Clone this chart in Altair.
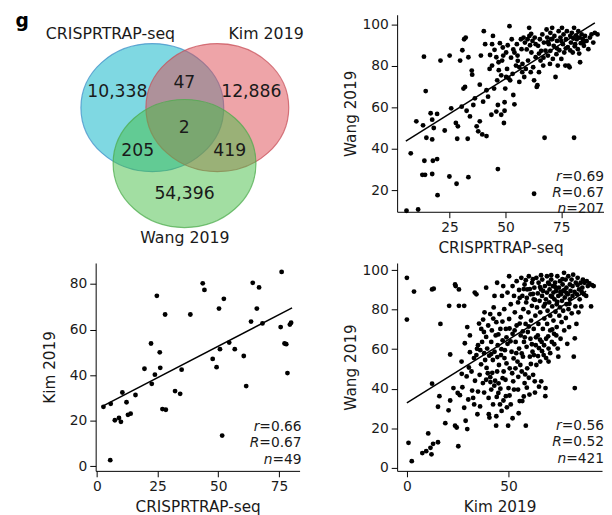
import altair as alt
import pandas as pd

FONT = "DejaVu Sans"
INK = "#1a1a1a"

# ---------------- Venn diagram values ----------------
venn_sets = ["CRISPRTRAP-seq", "Kim 2019", "Wang 2019"]
venn_cx = [143.5, 209.5, 176.2]
venn_cy = [94.3, 94.3, 151.0]
venn_fill = ["#00b1c5", "#dd4951", "#45bd45"]
venn_edge = ["#3f8fc8", "#c8505a", "#4cab4c"]
venn_set_label_x = [101, 259, 176.5]
venn_set_label_y = [20, 20, 227]
venn_counts = ["10,338", "47", "12,886", "2", "205", "419", "54,396"]
venn_count_x = [108, 176, 244, 176, 128.7, 222, 176.2]
venn_count_y = [78, 69, 78, 115, 138.7, 138.7, 182]
panel_letter = "g"

# ---------------- Scatter: CRISPRTRAP-seq vs Wang 2019 (top right) ----------------
tr_points = [
    (5.7, 10.2), (10.9, 10.8), (7.6, 37.9), (10.1, 53.3), (13.5, 84.5), (14.3, 67.9),
    (13.1, 51.4), (14.6, 45.4), (13.7, 34.3), (12.8, 27.5), (14.0, 27.5), (16.5, 57.2),
    (17.2, 54.1), (17.2, 44.6), (17.9, 50.1), (17.5, 34.3), (19.4, 35.1), (17.2, 27.9),
    (19.6, 17.7), (19.4, 56.9), (20.9, 82.6), (22.8, 48.9), (25.0, 85.0), (24.9, 26.7),
    (25.7, 59.6), (27.8, 52.5), (28.7, 50.9), (28.4, 44.9), (28.1, 23.2), (29.7, 82.6),
    (30.7, 87.6), (31.5, 92.9), (32.2, 93.7), (31.2, 69.1), (31.9, 69.9), (30.4, 60.4),
    (32.6, 58.4), (33.4, 84.2), (33.1, 44.9), (33.4, 26.4), (34.1, 55.7), (34.9, 77.8),
    (35.1, 75.8), (35.6, 61.2), (36.3, 64.4), (37.1, 50.9), (37.8, 48.5), (38.5, 71.0),
    (38.5, 53.3), (39.0, 85.0), (39.6, 47.0), (40.0, 62.8), (40.3, 96.8), (40.9, 90.5),
    (41.5, 68.3), (42.2, 65.2), (42.9, 78.6), (43.1, 85.3), (43.7, 56.5), (44.0, 90.5),
    (44.4, 94.5), (44.0, 80.2), (44.9, 69.1), (45.1, 87.8), (45.9, 84.2), (45.9, 58.0),
    (46.3, 73.1), (46.6, 30.3), (46.6, 61.2), (46.9, 81.8), (47.5, 91.0), (48.1, 75.5),
    (48.1, 56.5), (48.5, 82.6), (48.8, 88.9), (49.3, 52.5), (49.6, 58.4), (49.6, 62.5),
    (49.9, 69.1), (50.3, 74.7), (50.3, 86.5), (50.7, 78.6), (51.3, 74.2), (51.8, 99.2),
    (52.1, 73.1), (52.5, 84.0), (52.8, 92.9), (53.2, 76.2), (53.5, 66.0), (54.0, 61.5),
    (54.0, 86.5), (54.7, 80.2), (55.1, 90.5), (55.4, 85.0), (56.2, 72.3), (56.2, 79.4),
    (56.9, 92.9), (57.2, 88.1), (57.6, 81.0), (58.1, 93.7), (58.4, 74.7), (58.7, 91.3),
    (59.1, 78.6), (59.9, 92.9), (60.1, 82.6), (60.6, 98.4), (60.7, 94.5), (61.0, 90.0),
    (61.3, 77.0), (61.6, 86.5), (62.1, 92.1), (62.4, 79.4), (62.8, 73.1), (63.1, 93.7),
    (63.5, 84.2), (64.0, 69.9), (64.3, 70.7), (64.6, 89.7), (65.0, 77.0), (65.4, 92.9),
    (65.7, 82.6), (66.0, 87.3), (66.5, 95.2), (66.9, 80.2), (67.2, 91.3), (67.5, 45.4),
    (67.9, 87.4), (68.4, 97.6), (68.7, 93.7), (69.0, 85.0), (69.4, 90.5), (69.9, 81.0),
    (70.1, 96.0), (70.1, 87.3), (70.4, 92.9), (70.9, 98.4), (71.2, 83.4), (71.6, 89.7),
    (71.9, 94.5), (72.4, 74.7), (72.8, 85.7), (73.1, 92.1), (73.4, 80.2), (73.8, 96.8),
    (74.1, 87.6), (74.6, 93.7), (75.0, 83.4), (75.3, 98.4), (75.7, 90.5), (76.0, 95.2),
    (76.3, 86.5), (76.8, 80.2), (77.1, 92.9), (77.5, 96.8), (77.9, 89.1), (78.2, 80.2),
    (78.7, 79.4), (79.0, 94.5), (79.3, 91.3), (79.7, 96.0), (80.1, 86.5), (80.4, 93.2),
    (80.7, 98.4), (80.7, 45.4), (81.2, 90.5), (81.6, 94.8), (81.9, 92.9), (82.4, 88.1),
    (82.6, 96.8), (83.1, 93.7), (83.4, 81.8), (83.7, 91.0), (84.1, 95.2), (84.6, 92.9),
    (85.1, 89.7), (85.6, 94.5), (86.3, 92.1), (87.1, 88.1), (87.8, 93.7), (88.5, 95.2),
    (89.3, 91.3), (90.0, 96.0), (91.2, 95.2), (62.8, 18.4), (41.5, 46.2),
    (47.0, 78.0), (49.0, 85.0), (51.0, 90.0), (53.5, 88.0), (55.5, 82.5), (57.5, 77.0),
    (59.5, 88.0), (61.5, 95.5), (63.5, 90.5), (65.0, 86.0), (67.0, 84.0), (69.0, 91.5),
    (71.0, 93.0), (73.0, 88.5), (75.0, 92.0), (77.0, 88.5), (79.0, 87.5), (81.0, 89.5),
    (83.0, 86.0), (85.0, 91.5),
]
tr_line_x = [5.4, 90.0]
tr_line_y = [43.8, 100.8]
tr_stats = [("r", "=0.69"), ("R", "=0.67"), ("n", "=207")]

# ---------------- Scatter: CRISPRTRAP-seq vs Kim 2019 (bottom left) ----------------
bl_points = [
    (2.7, 26.1), (5.7, 27.4), (5.5, 2.7), (7.4, 20.2), (9.1, 21.2), (9.9, 19.5),
    (10.5, 32.4), (12.2, 28.1), (12.8, 22.6), (13.9, 23.1), (15.9, 31.3), (19.6, 42.8),
    (22.3, 53.9), (22.6, 36.2), (23.9, 40.2), (24.7, 74.8), (25.9, 50.0), (26.1, 43.2),
    (27.0, 25.1), (28.4, 24.8), (28.1, 66.6), (32.2, 33.0), (34.3, 31.8), (34.9, 42.4),
    (38.5, 66.6), (43.6, 80.3), (44.3, 77.4), (47.7, 47.1), (49.3, 43.5), (50.3, 69.2),
    (50.7, 51.4), (51.6, 13.5), (52.3, 73.5), (54.5, 54.3), (56.8, 51.4), (60.5, 48.4),
    (61.5, 35.2), (63.5, 63.5), (64.2, 80.5), (65.9, 69.2), (66.8, 78.5), (68.2, 62.7),
    (75.7, 61.1), (76.1, 85.3), (77.3, 53.9), (78.0, 53.6), (78.5, 40.9), (79.5, 62.2),
    (80.0, 63.0),
]
bl_line_x = [2.0, 80.4]
bl_line_y = [26.2, 69.5]
bl_stats = [("r", "=0.66"), ("R", "=0.67"), ("n", "=49")]

# ---------------- Scatter: Kim 2019 vs Wang 2019 (bottom right) ----------------
br_points = [
    (0.0, 96.2), (0.0, 75.0), (3.5, 89.2), (0.8, 12.5), (2.4, 3.2), (7.6, 7.3),
    (9.5, 8.3), (10.5, 17.3), (11.6, 10.0), (12.1, 6.7), (12.9, 12.0), (15.3, 12.8),
    (12.4, 90.3), (13.2, 90.7), (16.5, 72.8), (12.4, 42.5), (16.0, 36.2), (15.3, 30.8),
    (18.9, 22.5), (20.5, 29.0), (21.3, 34.0), (21.3, 57.3), (20.8, 82.0), (23.7, 92.8),
    (24.0, 92.0), (25.6, 90.3), (25.6, 82.0), (28.2, 82.0), (22.9, 40.3), (23.7, 21.2),
    (24.5, 20.3), (25.3, 10.8), (25.0, 37.8), (26.1, 36.7), (26.9, 53.7), (27.3, 40.7),
    (28.2, 30.3), (28.9, 23.7), (29.7, 19.5), (29.4, 46.2), (29.7, 71.2), (30.2, 34.5),
    (30.5, 50.7), (31.0, 67.0), (31.8, 48.7), (32.1, 39.0), (32.6, 35.3), (33.1, 32.0),
    (33.4, 88.7), (34.2, 87.8), (34.2, 57.0), (34.7, 27.0), (35.0, 62.0), (35.8, 47.0),
    (36.1, 59.5), (36.6, 70.3), (37.0, 63.7), (37.4, 42.8), (37.9, 68.7), (38.2, 78.7),
    (38.5, 54.5), (39.0, 66.2), (39.0, 91.2), (39.5, 60.3), (39.8, 47.8), (40.2, 35.3),
    (40.3, 27.0), (40.6, 25.3), (41.0, 77.8), (41.1, 43.3), (41.5, 63.7), (41.5, 39.5),
    (41.8, 69.5), (42.3, 54.5), (42.4, 32.0), (42.7, 81.2), (43.1, 87.0), (43.1, 58.7),
    (43.4, 44.0), (43.7, 67.0), (43.9, 21.2), (44.0, 73.7), (44.4, 93.7), (44.4, 48.7),
    (44.7, 62.0), (45.0, 37.8), (45.3, 52.0), (45.5, 77.8), (45.8, 32.0), (46.0, 70.3),
    (46.3, 57.0), (46.6, 28.7), (46.8, 87.0), (47.1, 64.5), (47.1, 45.3), (47.4, 92.0),
    (47.6, 48.7), (47.9, 80.3), (48.2, 59.5), (48.7, 70.3), (48.7, 36.2), (49.0, 52.8),
    (49.5, 88.7), (49.5, 62.7), (49.8, 21.2), (50.0, 40.3), (50.3, 97.0), (50.3, 75.3),
    (50.6, 50.3), (51.1, 82.8), (51.1, 32.0), (51.5, 58.7), (52.0, 92.0), (52.0, 67.8),
    (52.3, 43.7), (52.7, 39.5), (52.7, 87.0), (53.1, 78.7), (53.4, 50.3), (53.5, 63.7),
    (54.0, 94.5), (54.0, 72.0), (54.4, 53.7), (54.7, 83.7), (54.7, 39.5), (55.2, 90.0),
    (55.2, 60.3), (55.5, 33.7), (56.0, 76.2), (56.0, 67.0), (56.3, 96.2), (56.5, 48.7),
    (56.8, 87.0), (56.8, 33.7), (57.1, 56.2), (57.3, 80.3), (57.6, 63.7), (57.9, 92.8),
    (57.9, 42.8), (58.4, 72.8), (58.5, 21.2), (58.7, 83.7), (58.9, 61.2), (59.2, 90.3),
    (59.2, 50.3), (59.5, 68.7), (59.8, 78.7), (60.0, 97.0), (60.3, 37.0), (60.5, 56.2),
    (60.8, 87.8), (60.8, 65.3), (61.1, 74.5), (61.5, 82.0), (61.6, 93.7), (61.8, 58.7),
    (62.1, 47.0), (62.4, 85.3), (62.4, 70.3), (62.7, 91.2), (62.9, 43.7), (63.2, 77.0),
    (63.4, 62.0), (63.7, 96.2), (63.7, 52.0), (64.0, 81.2), (64.4, 88.3), (64.4, 67.0),
    (64.7, 72.8), (64.8, 93.7), (65.0, 60.5), (65.3, 84.5), (65.6, 53.7), (65.6, 78.7),
    (66.0, 90.3), (66.1, 43.7), (66.3, 63.7), (66.5, 87.0), (66.6, 95.3), (66.9, 70.3),
    (67.3, 81.7), (67.3, 57.0), (67.6, 75.5), (67.9, 92.0), (68.1, 36.2), (68.2, 40.3),
    (68.4, 85.3), (68.5, 65.3), (68.9, 97.0), (68.9, 88.7), (69.0, 72.8), (69.2, 79.5),
    (69.5, 93.7), (69.7, 53.7), (69.7, 60.3), (70.0, 83.7), (70.2, 90.3), (70.5, 69.5),
    (70.5, 77.0), (70.8, 87.0), (71.0, 95.3), (71.3, 63.7), (71.5, 81.7), (71.8, 92.0),
    (72.1, 74.5), (72.1, 88.7), (72.4, 67.8), (72.6, 85.3), (72.9, 93.7), (73.1, 79.0),
    (73.4, 89.5), (73.7, 71.2), (73.7, 82.8), (74.0, 97.0), (74.2, 60.3), (74.5, 87.0),
    (74.5, 56.2), (74.8, 91.2), (75.0, 77.0), (75.3, 81.2), (75.3, 94.5), (75.6, 65.3),
    (75.8, 87.8), (76.1, 73.7), (76.3, 84.5), (76.6, 92.8), (76.9, 79.5), (76.9, 89.5),
    (77.3, 98.7), (77.4, 69.5), (77.7, 86.2), (78.1, 95.3), (78.2, 75.8), (78.5, 91.2),
    (78.5, 82.8), (78.9, 62.7), (79.2, 87.8), (79.4, 97.0), (79.5, 80.3), (79.8, 71.2),
    (80.2, 92.8), (80.2, 85.3), (80.5, 89.5), (81.0, 95.3), (81.1, 78.2), (81.5, 87.0),
    (81.8, 97.8), (82.1, 56.2), (82.6, 40.3), (82.6, 65.5), (82.9, 81.7), (83.1, 93.7),
    (83.4, 72.8), (83.7, 87.8), (84.0, 96.2), (84.4, 78.7), (84.7, 90.3), (85.0, 85.3),
    (85.5, 93.7), (85.8, 81.7), (86.3, 91.2), (86.6, 95.3), (87.1, 87.8), (87.4, 93.7),
    (88.2, 87.0), (88.5, 94.5), (89.0, 92.0), (89.8, 93.3), (90.6, 81.7), (91.1, 92.5),
    (91.9, 92.0),
    (33.0, 55.5), (34.5, 60.2), (36.5, 52.3), (38.0, 58.0), (39.2, 50.5), (40.5, 56.7),
    (41.0, 45.8), (42.0, 48.0), (43.0, 41.5), (44.2, 35.8), (45.1, 42.7), (46.0, 40.0),
    (47.5, 34.0), (48.5, 44.5), (49.2, 30.5), (50.5, 36.5), (51.8, 47.8), (52.5, 55.3),
    (53.8, 58.0), (54.8, 46.0), (55.8, 52.0), (56.5, 57.8), (57.5, 36.0), (58.2, 47.2),
    (59.0, 40.5), (60.0, 45.5), (61.0, 52.5), (61.5, 62.5), (62.5, 57.0), (63.5, 66.0),
    (64.5, 56.5), (65.5, 64.8), (66.5, 59.0), (67.5, 62.0), (68.5, 55.5), (69.5, 66.5),
    (70.5, 58.0), (71.5, 70.0), (72.5, 62.5), (73.5, 67.0), (63.0, 38.0), (65.0, 41.0),
    (55.0, 27.5), (52.0, 25.0), (44.0, 26.0), (38.0, 38.0), (36.0, 31.0), (33.5, 44.0),
    (31.0, 58.5), (28.5, 63.0), (27.0, 47.5), (35.5, 73.0), (37.5, 75.0), (40.0, 72.0),
    (42.5, 75.5), (45.0, 67.5), (47.0, 74.0), (49.0, 66.0), (50.5, 70.5), (51.0, 64.0),
    (53.0, 69.5), (55.5, 73.0), (57.0, 69.0), (58.0, 66.0), (60.0, 71.5), (41.5, 57.5),
    (46.5, 60.0), (48.0, 55.5), (44.5, 56.0), (39.0, 44.5), (35.0, 38.5),
    (58.5, 95.0), (60.5, 90.5), (62.0, 88.0), (63.0, 85.0), (65.5, 91.5), (67.0, 89.5),
    (68.0, 83.0), (70.0, 93.0), (71.5, 86.5), (73.0, 91.5), (74.0, 84.0), (75.5, 89.0),
    (76.5, 95.5), (77.5, 90.0), (78.5, 88.5), (80.0, 83.0), (81.5, 92.0), (82.5, 89.0),
    (84.0, 92.5), (86.0, 89.0), (66.0, 97.5), (71.0, 97.5), (62.0, 95.5), (57.5, 90.5),
    (55.5, 86.0), (59.0, 86.0),
]
br_line_x = [0.0, 88.2]
br_line_y = [32.8, 89.5]
br_stats = [("r", "=0.56"), ("R", "=0.52"), ("n", "=421")]

# DejaVu Sans advance widths (em) used to place the italic symbol before its value
ADV = {"=": 0.838, ".": 0.318}
for d in "0123456789":
    ADV[d] = 0.636


def text_width(s, size):
    return sum(ADV.get(c, 0.6) for c in s) * size


def venn_panel():
    W, H = 300, 200
    xs = alt.Scale(domain=[0, W], nice=False, zero=False)
    ys = alt.Scale(domain=[0, H], nice=False, zero=False, reverse=True)
    k = 0.5523
    ry = 65.0 / 72.5
    shape = (
        f"M-1,0 C-1,{-k*ry:.4f} {-k:.4f},{-ry:.4f} 0,{-ry:.4f} "
        f"C{k:.4f},{-ry:.4f} 1,{-k*ry:.4f} 1,0 "
        f"C1,{k*ry:.4f} {k:.4f},{ry:.4f} 0,{ry:.4f} "
        f"C{-k:.4f},{ry:.4f} -1,{k*ry:.4f} -1,0 Z"
    )
    circ_df = pd.DataFrame({"set": venn_sets, "x": venn_cx, "y": venn_cy,
                            "fill": venn_fill, "edge": venn_edge})
    circles = alt.Chart(circ_df).mark_point(
        shape=shape, size=145 * 145, filled=True, fillOpacity=0.5,
        strokeWidth=1.2, strokeOpacity=0.75,
    ).encode(
        x=alt.X("x:Q", scale=xs, axis=None),
        y=alt.Y("y:Q", scale=ys, axis=None),
        fill=alt.Fill("fill:N", scale=None),
        stroke=alt.Stroke("edge:N", scale=None),
    )
    set_df = pd.DataFrame({"t": venn_sets, "x": venn_set_label_x, "y": venn_set_label_y})
    set_text = alt.Chart(set_df).mark_text(
        font=FONT, fontSize=16, color=INK, baseline="middle", align="center"
    ).encode(x=alt.X("x:Q", scale=xs, axis=None), y=alt.Y("y:Q", scale=ys, axis=None), text="t:N")
    cnt_df = pd.DataFrame({"t": venn_counts, "x": venn_count_x, "y": venn_count_y})
    cnt_text = alt.Chart(cnt_df).mark_text(
        font=FONT, fontSize=17.5, color=INK, baseline="middle", align="center"
    ).encode(x=alt.X("x:Q", scale=xs, axis=None), y=alt.Y("y:Q", scale=ys, axis=None), text="t:N")
    g_df = pd.DataFrame({"t": [panel_letter], "x": [11.5], "y": [12.5]})
    g_text = alt.Chart(g_df).mark_text(
        font=FONT, fontSize=19, fontWeight="bold", color="black", baseline="alphabetic", align="center"
    ).encode(x=alt.X("x:Q", scale=xs, axis=None), y=alt.Y("y:Q", scale=ys, axis=None), text="t:N")
    return alt.layer(circles, set_text, cnt_text, g_text).properties(width=W, height=H)


def scatter_panel(points, xdom, ydom, W, H, xticks, yticks, xtitle, ytitle,
                  line_x, line_y, stats, text_right, text_rows):
    df = pd.DataFrame(points, columns=["x", "y"])
    xs = alt.Scale(domain=xdom, nice=False, zero=False)
    ys = alt.Scale(domain=ydom, nice=False, zero=False)
    xaxis = alt.Axis(values=xticks, title=xtitle, titleX=W / 2, titleY=36,
                     titleBaseline="middle", titleAlign="center")
    yaxis = alt.Axis(values=yticks, title=ytitle, titleX=-47, titleY=H / 2,
                     titleBaseline="middle", titleAlign="center", titleAngle=270)
    pts = alt.Chart(df).mark_circle(size=24, color="black", opacity=1).encode(
        x=alt.X("x:Q", scale=xs, axis=xaxis),
        y=alt.Y("y:Q", scale=ys, axis=yaxis),
    )
    ldf = pd.DataFrame({"x": line_x, "y": line_y})
    line = alt.Chart(ldf).mark_line(color="black", strokeWidth=1.5).encode(
        x=alt.X("x:Q", scale=xs), y=alt.Y("y:Q", scale=ys)
    )
    layers = [pts, line]
    for (sym, val), ypix in zip(stats, text_rows):
        vdf = pd.DataFrame({"t": [val]})
        layers.append(alt.Chart(vdf).mark_text(
            font=FONT, fontSize=14, color=INK, align="right", baseline="middle"
        ).encode(x=alt.value(text_right), y=alt.value(ypix), text="t:N"))
        sdf = pd.DataFrame({"t": [sym]})
        layers.append(alt.Chart(sdf).mark_text(
            font=FONT, fontSize=14, color=INK, align="right", baseline="middle",
            fontStyle="italic", dx=-text_width(val, 14)
        ).encode(x=alt.value(text_right), y=alt.value(ypix), text="t:N"))
    return alt.layer(*layers).properties(width=W, height=H)


venn = venn_panel()
tr = scatter_panel(tr_points, [1.5, 94.1], [9.7, 104.7], 210, 200,
                   [25, 50, 75], [20, 40, 60, 80, 100], "CRISPRTRAP-seq", "Wang 2019",
                   tr_line_x, tr_line_y, tr_stats, 210, [165, 181, 197])
bl = scatter_panel(bl_points, [-0.5, 83.5], [-2.0, 89.2], 207, 211,
                   [0, 25, 50, 75], [0, 20, 40, 60, 80], "CRISPRTRAP-seq", "Kim 2019",
                   bl_line_x, bl_line_y, bl_stats, 209, [167, 183, 200])
br = scatter_panel(br_points, [-4.8, 96.0], [-1.7, 103.7], 208, 211,
                   [0, 50], [0, 20, 40, 60, 80, 100], "Kim 2019", "Wang 2019",
                   br_line_x, br_line_y, br_stats, 210, [166, 182, 199])

spacer = alt.Chart(pd.DataFrame({"s": [0]})).mark_point(opacity=0).encode(
    x=alt.value(0), y=alt.value(0)
).properties(width=1, height=1)

row1 = alt.hconcat(venn, tr, spacing=92, bounds="flush")
row2 = alt.hconcat(spacer, alt.hconcat(bl, br, spacing=99, bounds="flush"),
                   spacing=85, bounds="flush")

# nested concat rows count as zero-height under flush bounds, so the
# spacing here is the full offset of the second row
chart = alt.vconcat(row1, row2, spacing=252, bounds="flush").properties(
    padding=0
).configure_axis(
    domainColor="black", domainWidth=1, tickColor="black", tickWidth=1, tickSize=6,
    labelPadding=3, labelFont=FONT, labelFontSize=14, labelColor=INK,
    labelFlush=False, labelOverlap=False,
    titleFont=FONT, titleFontSize=15.5, titleFontWeight="normal", titleColor=INK,
    grid=False,
).configure_view(stroke=None)

chart.save("out.html", embed_options={"renderer": "svg", "actions": False})
